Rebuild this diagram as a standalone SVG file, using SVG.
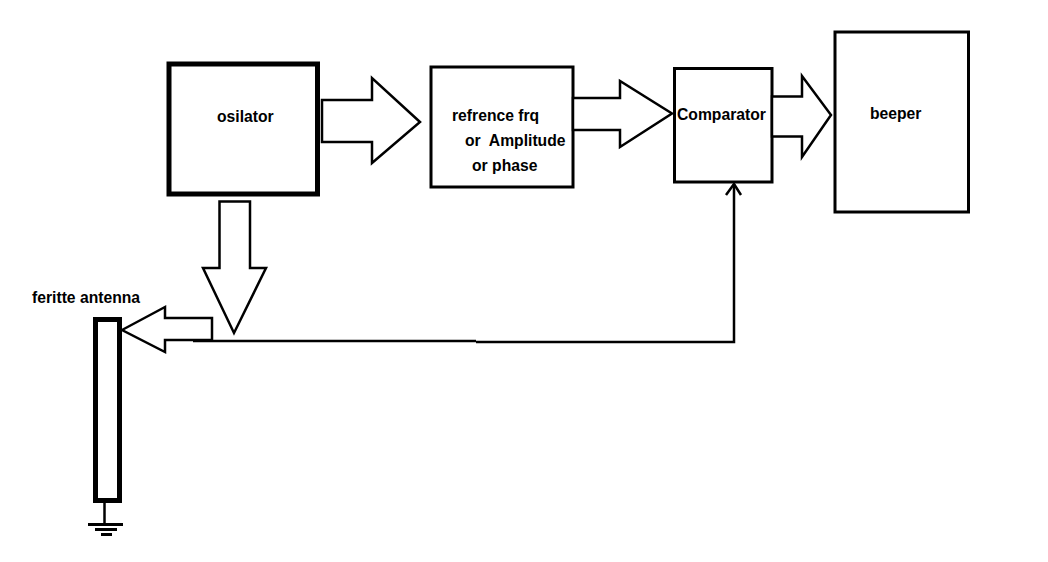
<svg xmlns="http://www.w3.org/2000/svg" width="1048" height="562" viewBox="0 0 1048 562">
<style>
.box{fill:#fff;stroke:#000;stroke-width:3}
.thick{stroke-width:5}
.blk{fill:#fff;stroke:#000;stroke-width:2.5;stroke-linejoin:miter}
.ln{fill:none;stroke:#000;stroke-width:2.5}
.t{font-family:"Liberation Sans",Arial,sans-serif;font-weight:bold;font-size:15.7px;fill:#000;white-space:pre}
</style>
<rect width="1048" height="562" fill="#fff"/>
<g id="osilator">
<rect class="box thick" x="169" y="64" width="148.5" height="130"/>
<text class="t" x="217" y="122">osilator</text>
</g>
<g id="reference">
<rect class="box" x="431" y="67" width="142" height="120"/>
<text class="t" x="452" y="121">refrence frq</text>
<text class="t" x="465" y="146">or  Amplitude</text>
<text class="t" x="472" y="171">or phase</text>
</g>
<g id="comparator">
<rect class="box" x="674.5" y="68.5" width="97.5" height="113.5"/>
<text class="t" x="677" y="120">Comparator</text>
</g>
<g id="beeper">
<rect class="box" x="835" y="32" width="133.5" height="180"/>
<text class="t" x="870" y="119">beeper</text>
</g>
<g id="antenna">
<text class="t" x="32" y="303">feritte antenna</text>
<rect class="box thick" x="95.5" y="319.5" width="24" height="181"/>
<line class="ln" x1="104.5" y1="503" x2="104.5" y2="524"/>
<line class="ln" x1="88" y1="524.5" x2="123" y2="524.5" style="stroke-width:3"/>
<line class="ln" x1="95" y1="529.5" x2="117" y2="529.5" style="stroke-width:3"/>
<line class="ln" x1="101" y1="534.5" x2="112" y2="534.5" style="stroke-width:3"/>
</g>
<g id="connectors">
<polygon class="blk" points="322,100 372,100 372,78 420,122 372,163 372,142 322,142"/>
<polygon class="blk" points="573,98 620,98 620,81 672,113.5 620,147 620,130 573,130"/>
<polygon class="blk" points="772,96.5 802,96.5 802,76 831,115 802,157 802,136.5 772,136.5"/>
<polygon class="blk" points="219.5,201.5 250,201.5 250,268 266,268 234,333 203,268 219.5,268"/>
<polygon class="blk" points="122,330 165,307 165,318 212,318 212,340 165,340 165,352"/>
<polyline class="ln" points="193,341 476,341"/>
<polyline class="ln" points="476,342 734,342 734,184"/>
<polyline class="ln" points="726,195 734,184 741,195"/>
</g>
</svg>
